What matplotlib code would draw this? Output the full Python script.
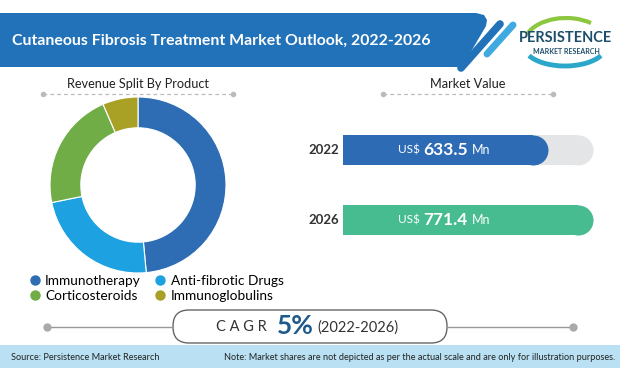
import matplotlib.pyplot as plt
from matplotlib.patches import Polygon, Rectangle, FancyBboxPatch, Arc
from matplotlib.lines import Line2D

# data
products = ['Immunotherapy', 'Anti-fibrotic Drugs', 'Corticosteroids', 'Immunoglobulins']
shares = [48.5, 23.3, 21.7, 6.5]
pie_colors = ['#2E6DB4', '#1DA1E0', '#70AD47', '#A9A125']

years = ['2022', '2026']
market_value = [633.5, 771.4]
bar_colors = ['#2E6BB5', '#47BC91']

cagr = '5%'
cagr_period = '(2022-2026)'

W, H = 620, 368
fig = plt.figure(figsize=(W / 100, H / 100), dpi=100)
plt.rcParams['font.family'] = ['Lato', 'DejaVu Sans']

# background / decoration layer in pixel coordinates
bg = fig.add_axes([0, 0, 1, 1], zorder=0)
bg.set_xlim(0, W)
bg.set_ylim(H, 0)
bg.axis('off')

# title banner
banner = Polygon([(0, 13), (476, 13), (484, 15), (487, 20), (486, 26), (462, 67), (0, 67)],
                 closed=True, color='#2272B9', lw=0)
bg.add_patch(banner)
bg.plot([461, 500], [68, 24], color='#2272B9', lw=5.5, solid_capstyle='round')
bg.plot([487, 513], [54, 25], color='#3FA9E0', lw=5, solid_capstyle='round')
bg.text(12, 41, 'Cutaneous Fibrosis Treatment Market Outlook, 2022-2026', color='white',
        fontsize=11.4, fontweight='bold', va='center', ha='left')

# logo
bg.add_patch(Arc((566, 44), 84, 52, theta1=195, theta2=320, color='#8DC63F', lw=3))
bg.add_patch(Arc((565, 46), 82, 40, theta1=15, theta2=165, color='#2AA7C9', lw=3.5))
bg.text(566, 38, 'PERSISTENCE', color='#1D4E6B', fontsize=10.5, fontweight='bold',
        ha='center', va='center', fontstretch='condensed')
bg.text(566, 51, 'MARKET RESEARCH', color='#1D4E6B', fontsize=5, fontweight='bold',
        ha='center', va='center')

# section headers with dashed rules
for cx, x0, x1, label in [(138, 43, 233, 'Revenue Split By Product'),
                          (468, 383, 553, 'Market Value')]:
    bg.text(cx, 84, label, fontsize=9.2, color='#222222', ha='center', va='center')
    bg.plot([x0, x1], [94, 94], color='#BBBBBB', lw=0.9, ls=(0, (3, 2.5)))
    bg.plot([x0, x1], [94, 94], 'o', color='#BBBBBB', ms=4, mec='none')

# CAGR pill
bg.plot([47, 173], [327, 327], color='#999999', lw=1)
bg.plot([447, 573], [327, 327], color='#999999', lw=1)
bg.plot([47, 573], [327, 327], 'o', color='#AAAAAA', ms=6, mec='none')
bg.add_patch(FancyBboxPatch((173, 310), 274, 33, boxstyle='round,pad=0,rounding_size=16',
                            fc='white', ec='#666666', lw=1))
t_num = bg.text(295, 326, cagr, fontsize=19, fontweight='bold', color='#1F5A8C',
                ha='center', va='center')
bg.annotate('C A G R', xy=(0, 0.45), xycoords=t_num, xytext=(-7, 0), textcoords='offset points',
            ha='right', va='center', fontsize=10.5, color='#333333')
bg.annotate(cagr_period, xy=(1, 0.45), xycoords=t_num, xytext=(3, 0), textcoords='offset points',
            ha='left', va='center', fontsize=10.5, color='#333333')

# footer
bg.add_patch(Rectangle((0, 345), W, 23, color='#B9E1F3', lw=0))
bg.text(11, 357, 'Source: Persistence Market Research', fontsize=6.6, color='#222222',
        ha='left', va='center')
bg.text(615, 357, 'Note: Market shares are not depicted as per the actual scale and are only '
        'for illustration purposes.', fontsize=6.6, color='#222222', ha='right', va='center')

# donut
pax = fig.add_axes([50 / W, 1 - 273 / H, 176 / W, 176 / H], zorder=1)
pax.pie(shares, colors=pie_colors, startangle=90, counterclock=False,
        wedgeprops=dict(width=0.35, edgecolor='white', linewidth=0.8))
pax.set_xlim(-1, 1)
pax.set_ylim(-1, 1)

order = [0, 2, 1, 3]  # legend fills by column; this gives row-wise reading order
handles = [Line2D([], [], marker='o', ls='none', color=pie_colors[k], ms=6.5) for k in order]
fig.legend(handles, [products[k] for k in order], ncol=2, loc='upper left',
           bbox_to_anchor=(30 / W, 1 - 275 / H),
           frameon=False, fontsize=9.8, handlelength=0.7, handletextpad=0.4,
           columnspacing=1.1, labelspacing=0.2, borderpad=0, borderaxespad=0)

# market value bars
bax = fig.add_axes([343 / W, 1 - 255 / H, 250 / W, 140 / H], zorder=1)
vmax = max(market_value)
bax.set_xlim(0, vmax)
bax.set_ylim(1.5, -0.5)
bax.axis('off')
bh = 30 / 70
r = 15 * vmax / 250
for i, (yr, v, c) in enumerate(zip(years, market_value, bar_colors)):
    bax.barh(i, vmax - r, height=bh, color='#E4E5E7', lw=0, zorder=1)
    bax.plot(vmax - r, i, 'o', ms=21.6, color='#E4E5E7', mec='none', zorder=1)
    bax.barh(i, v - r, height=bh, color=c, lw=0, zorder=2)
    bax.plot(v - r, i, 'o', ms=21.6, color=c, mec='none', zorder=2)
    bax.annotate(yr, xy=(0, i), xytext=(-3, 0), textcoords='offset points', ha='right',
                 va='center', fontsize=9.5, fontweight='bold', color='#333333')
    num = bax.annotate(f'{v:.1f}', xy=(0, i), xytext=(80 * 0.72, 0), textcoords='offset points',
                       ha='left', va='center', fontsize=12.5, fontweight='bold', color='white',
                       zorder=3)
    bax.annotate('US$', xy=(0, 0), xycoords=num, xytext=(-2, 1.5), textcoords='offset points',
                 ha='right', va='bottom', fontsize=8.5, color='white', zorder=3)
    bax.annotate('Mn', xy=(1, 0), xycoords=num, xytext=(3, 1.5), textcoords='offset points',
                 ha='left', va='bottom', fontsize=9, color='white', zorder=3)

fig.savefig('out.png', dpi=100)
